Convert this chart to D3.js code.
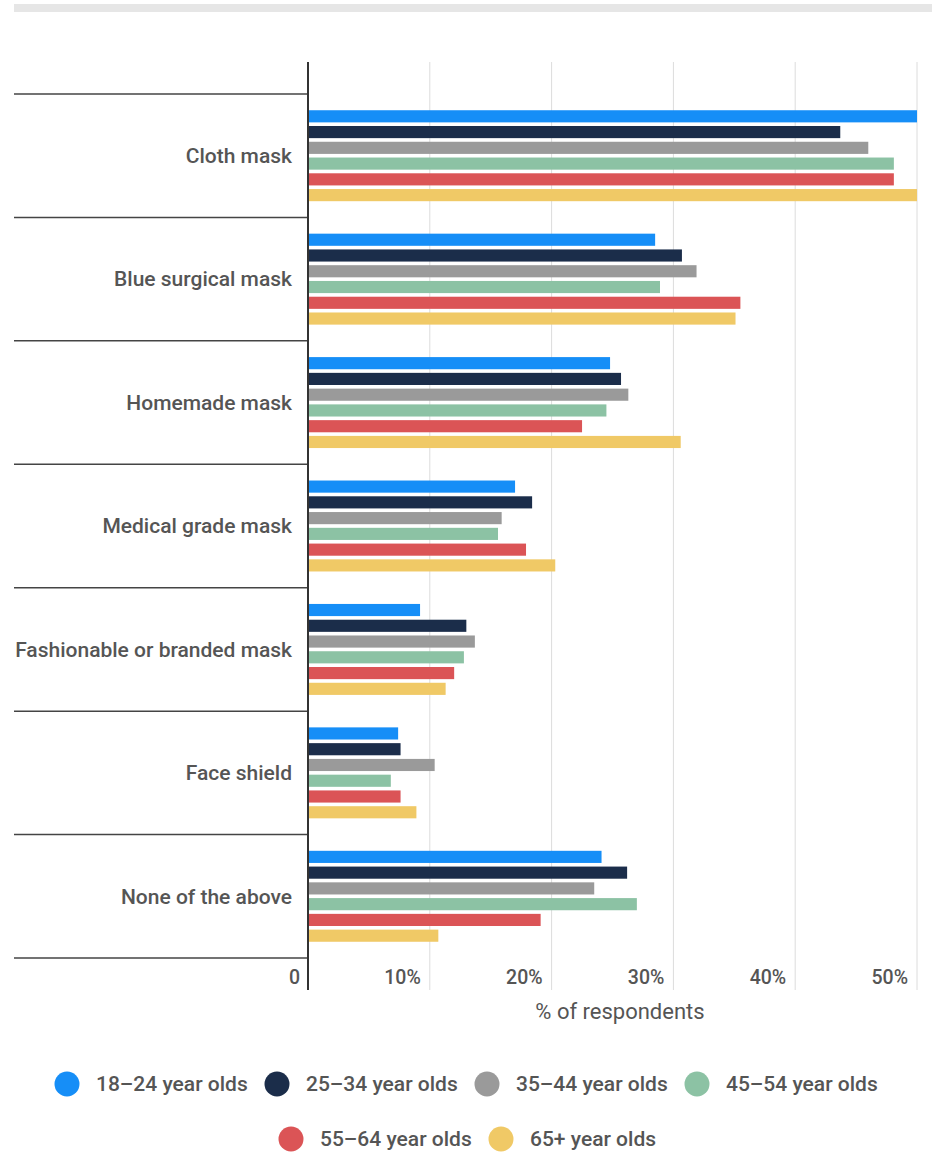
<!DOCTYPE html>
<html>
<head>
<meta charset="utf-8">
<script src="https://cdn.jsdelivr.net/npm/d3@7"></script>
<style>
  html, body { margin: 0; padding: 0; background: #fff; }
  svg { display: block; font-family: Roboto, "Noto Sans", sans-serif; }
</style>
</head>
<body>
<svg id="chart" width="932" height="1152"></svg>
<script>
// Mask types worn, share of respondents by age group
const categories = [
  "Cloth mask",
  "Blue surgical mask",
  "Homemade mask",
  "Medical grade mask",
  "Fashionable or branded mask",
  "Face shield",
  "None of the above"
];
const seriesNames = [
  "18\u201324 year olds",
  "25\u201334 year olds",
  "35\u201344 year olds",
  "45\u201354 year olds",
  "55\u201364 year olds",
  "65+ year olds"
];
const seriesColors = ["#168ef7", "#1b2d4a", "#9a9a9a", "#8cc2a4", "#db5456", "#f0c966"];

// values in %, one array per age group, in category order
const age18_24 = [50.0, 28.5, 24.8, 17.0, 9.2, 7.4, 24.1];
const age25_34 = [43.7, 30.7, 25.7, 18.4, 13.0, 7.6, 26.2];
const age35_44 = [46.0, 31.9, 26.3, 15.9, 13.7, 10.4, 23.5];
const age45_54 = [48.1, 28.9, 24.5, 15.6, 12.8, 6.8, 27.0];
const age55_64 = [48.1, 35.5, 22.5, 17.9, 12.0, 7.6, 19.1];
const age65plus = [50.0, 35.1, 30.6, 20.3, 11.3, 8.9, 10.7];
const seriesValues = [age18_24, age25_34, age35_44, age45_54, age55_64, age65plus];

const tickValues = [0, 10, 20, 30, 40, 50];
const tickLabels = ["0", "10%", "20%", "30%", "40%", "50%"];
const axisTitle = "% of respondents";

const svg = d3.select("#chart");

// top strip
svg.append("rect").attr("x", 14).attr("y", 4).attr("width", 918).attr("height", 8).attr("fill", "#e6e6e6");

const x = d3.scaleLinear().domain([0, 50]).range([308, 917]);
const y = d3.scaleBand().domain(categories).range([94, 958]);
const inner = d3.scaleBand().domain(d3.range(seriesNames.length))
  .range([0, y.bandwidth()]).paddingInner(0.23).paddingOuter(1.03);

const plotTop = 62, plotBottom = 990;

// vertical gridlines
svg.append("g").selectAll("line").data(tickValues.filter(d => d > 0)).join("line")
  .attr("x1", d => x(d)).attr("x2", d => x(d))
  .attr("y1", plotTop).attr("y2", plotBottom)
  .attr("stroke", "#dcdcdc").attr("stroke-width", 1);

// category separators on the left
const seps = categories.map(c => y(c)).concat([y.range()[1]]);
svg.append("g").selectAll("line").data(seps).join("line")
  .attr("x1", 14).attr("x2", 308)
  .attr("y1", d => d).attr("y2", d => d)
  .attr("stroke", "#444").attr("stroke-width", 1.5);

// bars
const groups = svg.append("g").selectAll("g").data(categories).join("g")
  .attr("transform", c => `translate(0,${y(c)})`);
groups.selectAll("rect")
  .data((c, ci) => seriesValues.map((vals, si) => ({ si, v: vals[ci] })))
  .join("rect")
  .attr("x", x(0))
  .attr("y", d => inner(d.si))
  .attr("width", d => x(d.v) - x(0))
  .attr("height", inner.bandwidth())
  .attr("fill", d => seriesColors[d.si]);

// category labels
svg.append("g").selectAll("text").data(categories).join("text")
  .attr("x", 292)
  .attr("y", c => y(c) + y.bandwidth() / 2)
  .attr("dy", "0.35em")
  .attr("text-anchor", "end")
  .attr("font-size", 21)
  .attr("font-weight", 500)
  .attr("fill", "#555")
  .text(c => c);

// value axis line
svg.append("line")
  .attr("x1", x(0)).attr("x2", x(0))
  .attr("y1", plotTop).attr("y2", plotBottom)
  .attr("stroke", "#333").attr("stroke-width", 2);

// tick labels, right-aligned before each gridline
svg.append("g").selectAll("text").data(tickValues).join("text")
  .attr("x", d => x(d) - (d === 0 ? 8 : 9))
  .attr("y", 984)
  .attr("text-anchor", "end")
  .attr("font-size", 19.5)
  .attr("font-weight", 500)
  .attr("fill", "#555")
  .text((d, i) => tickLabels[i]);

// axis title
svg.append("text")
  .attr("x", 620).attr("y", 1019)
  .attr("text-anchor", "middle")
  .attr("font-size", 22)
  .attr("fill", "#555")
  .text(axisTitle);

// legend
const legendPos = [
  { cx: 67, cy: 1084 }, { cx: 277, cy: 1084 }, { cx: 487, cy: 1084 }, { cx: 697, cy: 1084 },
  { cx: 291, cy: 1139 }, { cx: 501, cy: 1139 }
];
const leg = svg.append("g").selectAll("g").data(seriesNames).join("g")
  .attr("transform", (d, i) => `translate(${legendPos[i].cx},${legendPos[i].cy})`);
leg.append("circle").attr("r", 12.5).attr("fill", (d, i) => seriesColors[i]);
leg.append("text")
  .attr("x", 29).attr("dy", "0.35em")
  .attr("font-size", 21).attr("font-weight", 500)
  .attr("fill", "#555")
  .text(d => d);
</script>
</body>
</html>
